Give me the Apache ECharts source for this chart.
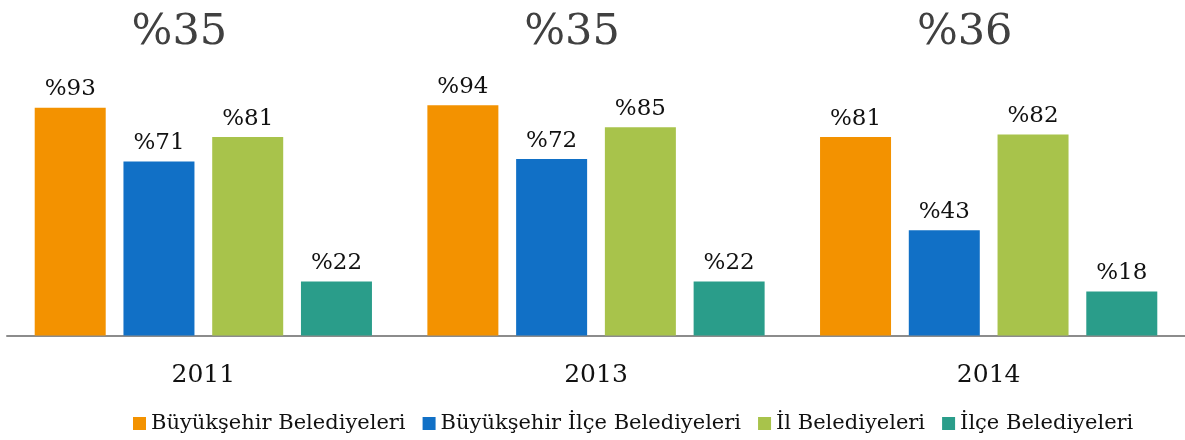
<!DOCTYPE html>
<html>
<head>
<meta charset="utf-8">
<script src="https://cdn.jsdelivr.net/npm/echarts@6/dist/echarts.min.js"></script>
<style>
  html, body { margin: 0; padding: 0; background: #fff; }
  #chart { width: 1185px; height: 440px; }
</style>
</head>
<body>
<div id="chart"></div>
<script>
// Years shown on the category axis
const years = ['2011', '2013', '2014'];

// Share per municipality type, in percent
const buyuksehir = [93, 94, 81];
const buyuksehirIlce = [71, 72, 43];
const ilBelediye = [81, 85, 82];
const ilceBelediye = [22, 22, 18];

// Overall share for each year, printed above each group
const overall = [35, 35, 36];

const seriesNames = [
  'Büyükşehir Belediyeleri',
  'Büyükşehir İlçe Belediyeleri',
  'İl Belediyeleri',
  'İlçe Belediyeleri'
];
const seriesData = [buyuksehir, buyuksehirIlce, ilBelediye, ilceBelediye];
const colors = ['#F39200', '#1170C6', '#A8C34B', '#2A9D8A'];

const FONT = '"DejaVu Serif", serif';

const chart = echarts.init(document.getElementById('chart'));

chart.setOption({
  animation: false,
  color: colors,
  textStyle: { fontFamily: FONT },
  grid: { left: 7, right: -2, top: 90.5, bottom: 104.5, containLabel: false },
  legend: {
    bottom: 1,
    left: 128,
    itemWidth: 13,
    itemHeight: 13,
    itemGap: 17,
    icon: 'rect',
    textStyle: { fontFamily: FONT, fontSize: 21, color: '#111' },
    data: seriesNames
  },
  xAxis: {
    type: 'category',
    data: years,
    axisTick: { show: false },
    axisLine: { lineStyle: { color: '#8c8c8c', width: 2 } },
    axisLabel: { fontFamily: FONT, fontSize: 25, color: '#111', margin: 27 }
  },
  yAxis: {
    type: 'value',
    min: 0,
    max: 100,
    show: false,
    splitLine: { show: false }
  },
  series: seriesNames.map((name, i) => ({
    name: name,
    type: 'bar',
    data: seriesData[i],
    barWidth: 71,
    barGap: '25%',
    itemStyle: { color: colors[i] },
    label: {
      show: true,
      position: 'top',
      distance: 7,
      formatter: p => '%' + p.value,
      fontFamily: FONT,
      fontSize: 23,
      color: '#111'
    }
  }))
});

// Overall figures placed over each year group, following the category axis
function placeOverall() {
  const elements = years.map((y, i) => {
    const cx = chart.convertToPixel({ xAxisIndex: 0 }, y);
    return {
      type: 'text',
      x: cx - 24,
      y: 33,
      style: {
        text: '%' + overall[i],
        fontFamily: FONT,
        fontSize: 43,
        fill: '#404040',
        align: 'center',
        verticalAlign: 'middle'
      }
    };
  });
  chart.setOption({ graphic: elements });
}
placeOverall();
</script>
</body>
</html>
